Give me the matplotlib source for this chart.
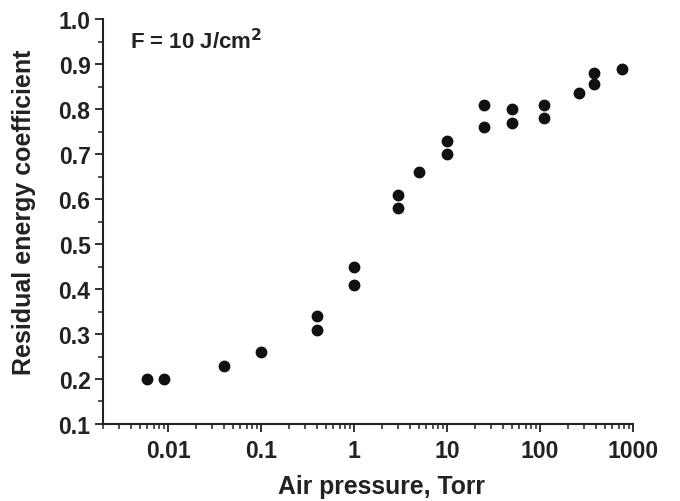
import matplotlib
matplotlib.use("Agg")
import matplotlib.pyplot as plt
from matplotlib.ticker import LogLocator, FixedLocator, FuncFormatter

plt.rcParams['font.family'] = ['Liberation Sans', 'DejaVu Sans']
plt.rcParams['font.weight'] = 'bold'

pressure = [0.006, 0.009, 0.04, 0.1, 0.4, 0.4, 1, 1, 3, 3, 5, 10, 10,
            25, 25, 50, 50, 110, 110, 260, 380, 380, 760]
coef = [0.20, 0.20, 0.23, 0.26, 0.34, 0.31, 0.45, 0.41, 0.61, 0.58, 0.66,
        0.73, 0.70, 0.81, 0.76, 0.80, 0.77, 0.81, 0.78, 0.835, 0.88, 0.855, 0.89]

x_ticks = [0.01, 0.1, 1, 10, 100, 1000]
x_tick_labels = ['0.01', '0.1', '1', '10', '100', '1000']
y_ticks = [0.1, 0.2, 0.3, 0.4, 0.5, 0.6, 0.7, 0.8, 0.9, 1.0]

fig = plt.figure(figsize=(6.8, 5.02), dpi=100)
ax = fig.add_axes([0.1515, 0.1534, 0.931 - 0.1515, 0.960 - 0.1534])

ax.plot(pressure, coef, 'o', color='#111111', markersize=7.5, linestyle='none', clip_on=False)

ax.set_xscale('log')
ax.set_xlim(0.002, 1000)
ax.set_ylim(0.1, 1.0)

ax.xaxis.set_major_locator(FixedLocator(x_ticks))
ax.set_xticklabels(x_tick_labels)
ax.xaxis.set_minor_locator(LogLocator(base=10, subs=[2, 3, 4, 5, 6, 7, 8, 9], numticks=20))
ax.xaxis.set_minor_formatter(FuncFormatter(lambda v, p: ''))
ax.set_yticks(y_ticks)
ax.set_yticklabels([f'{v:.1f}' for v in y_ticks])
ax.set_yticks([v + 0.05 for v in y_ticks[:-1]], minor=True)

for s in ['top', 'right']:
    ax.spines[s].set_visible(False)
for s in ['left', 'bottom']:
    ax.spines[s].set_linewidth(1.5)
    ax.spines[s].set_color('#222222')

ax.tick_params(which='major', direction='out', length=6, width=1.3, labelsize=16.6,
               colors='#222222', pad=3)
ax.tick_params(which='minor', direction='out', length=3.5, width=1.1, colors='#222222')
ax.tick_params(axis='x', which='major', pad=5)
for lbl in ax.get_xticklabels() + ax.get_yticklabels():
    lbl.set_fontweight('bold')

ax.set_xlabel('Air pressure, Torr', fontsize=17.8, fontweight='bold', color='#222222')
ax.set_ylabel('Residual energy coefficient', fontsize=18, fontweight='bold', color='#222222')
ax.xaxis.set_label_coords(0.525, -0.153)
ax.xaxis.label.set_verticalalignment('center')
ax.yaxis.set_label_coords(-0.149, 0.526)
ax.yaxis.label.set_verticalalignment('center')

ax.text(0.051, 0.929, r'F = 10 J/cm$^{\mathbf{2}}$', transform=ax.transAxes,
        fontsize=16, fontweight='bold', color='#222222', va='baseline', ha='left')

fig.savefig('out.png', dpi=100)
